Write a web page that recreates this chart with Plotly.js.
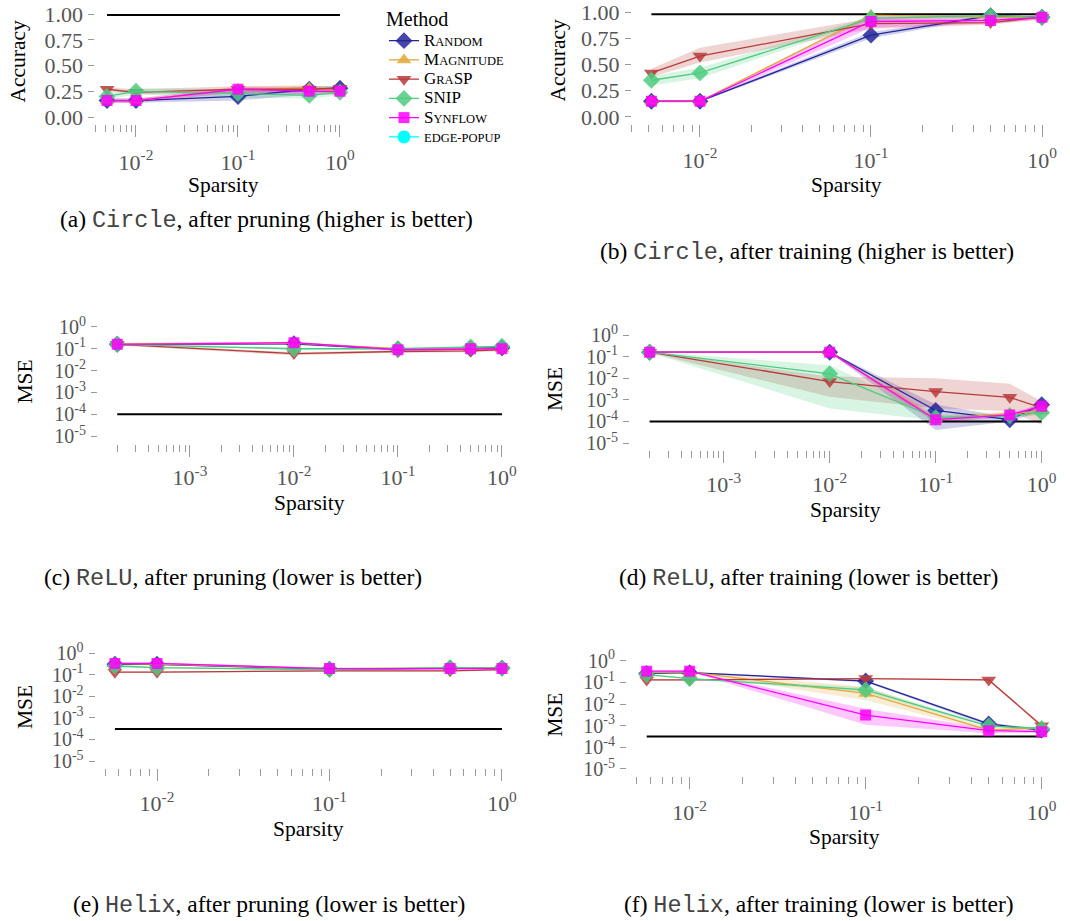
<!DOCTYPE html>
<html><head><meta charset="utf-8">
<script src="https://cdn.plot.ly/plotly-3.0.1.min.js"></script>
<style>html,body{margin:0;padding:0;background:#fff}</style>
</head><body><div id="chart" style="width:1070px;height:921px"></div>
<script>
// ---------------- DATA ----------------
const methodNames = ['Random', 'Magnitude', 'GraSP', 'SNIP', 'Synflow', 'edge-popup'];
const methodLabels = [
  '<span style="font-size:17px">R</span>ANDOM',
  '<span style="font-size:17px">M</span>AGNITUDE',
  '<span style="font-size:17px">G</span>RA<span style="font-size:17px">SP</span>',
  '<span style="font-size:17px">SNIP</span>',
  '<span style="font-size:17px">S</span>YNFLOW',
  'EDGE-POPUP'
];
const methodColors = ['#24249b', '#e0a93b', '#b83b3b', '#4dcb80', '#ff00ff', '#00ffff'];
const methodSymbols = ['diamond', 'triangle-up', 'triangle-down', 'diamond', 'square', 'circle'];

const sparsityCircle = [0.0052, 0.01, 0.1, 0.5, 1];
const sparsityRelu = [0.0002, 0.01, 0.1, 0.5, 1];
const sparsityHelix = [0.0057, 0.01, 0.1, 0.5, 1];

// (a) Circle, after pruning (accuracy)
const circlePruneRandom = [0.16, 0.16, 0.20, 0.27, 0.28];
const circlePruneRandomLo = [0.14, 0.14, 0.16, 0.22, 0.24];
const circlePruneRandomHi = [0.18, 0.18, 0.25, 0.30, 0.30];
const circlePruneMagnitude = [0.16, 0.16, 0.27, 0.28, 0.25];
const circlePruneMagnitudeLo = [0.14, 0.14, 0.24, 0.25, 0.22];
const circlePruneMagnitudeHi = [0.18, 0.18, 0.30, 0.31, 0.28];
const circlePruneGrasp = [0.27, 0.24, 0.27, 0.27, 0.28];
const circlePruneGraspLo = [0.25, 0.22, 0.23, 0.24, 0.25];
const circlePruneGraspHi = [0.29, 0.27, 0.30, 0.30, 0.30];
const circlePruneSnip = [0.20, 0.25, 0.23, 0.21, 0.24];
const circlePruneSnipLo = [0.17, 0.22, 0.19, 0.18, 0.21];
const circlePruneSnipHi = [0.23, 0.28, 0.27, 0.25, 0.27];
const circlePruneSynflow = [0.16, 0.16, 0.27, 0.25, 0.25];
const circlePruneSynflowLo = [0.14, 0.14, 0.24, 0.22, 0.22];
const circlePruneSynflowHi = [0.18, 0.18, 0.29, 0.28, 0.28];
const circlePruneBaseline = [0.99, 0.99, 0.99, 0.99, 0.99];

// (b) Circle, after training (accuracy)
const circleTrainRandom = [0.15, 0.15, 0.78, 0.965, 0.95];
const circleTrainRandomLo = [0.14, 0.14, 0.75, 0.95, 0.94];
const circleTrainRandomHi = [0.16, 0.16, 0.81, 0.975, 0.96];
const circleTrainMagnitude = [0.15, 0.15, 0.97, 0.95, 0.95];
const circleTrainMagnitudeLo = [0.14, 0.14, 0.95, 0.93, 0.94];
const circleTrainMagnitudeHi = [0.16, 0.16, 0.98, 0.97, 0.96];
const circleTrainGrasp = [0.42, 0.58, 0.89, 0.90, 0.95];
const circleTrainGraspLo = [0.38, 0.52, 0.84, 0.88, 0.93];
const circleTrainGraspHi = [0.46, 0.66, 0.94, 0.93, 0.97];
const circleTrainSnip = [0.35, 0.42, 0.94, 0.965, 0.95];
const circleTrainSnipLo = [0.30, 0.37, 0.92, 0.95, 0.94];
const circleTrainSnipHi = [0.39, 0.47, 0.96, 0.975, 0.96];
const circleTrainSynflow = [0.15, 0.15, 0.91, 0.92, 0.95];
const circleTrainSynflowLo = [0.14, 0.14, 0.85, 0.89, 0.93];
const circleTrainSynflowHi = [0.16, 0.16, 0.96, 0.95, 0.97];
const circleTrainBaseline = [0.98, 0.98, 0.98, 0.98, 0.98];

// (c) ReLU, after pruning (MSE)
const reluPruneRandom = [0.16, 0.17, 0.095, 0.10, 0.11];
const reluPruneRandomLo = [0.14, 0.15, 0.085, 0.09, 0.10];
const reluPruneRandomHi = [0.18, 0.19, 0.105, 0.11, 0.12];
const reluPruneMagnitude = [0.17, 0.18, 0.10, 0.10, 0.10];
const reluPruneMagnitudeLo = [0.15, 0.16, 0.09, 0.09, 0.09];
const reluPruneMagnitudeHi = [0.19, 0.20, 0.11, 0.11, 0.11];
const reluPruneGrasp = [0.16, 0.06, 0.075, 0.08, 0.09];
const reluPruneGraspLo = [0.14, 0.05, 0.065, 0.07, 0.08];
const reluPruneGraspHi = [0.18, 0.07, 0.085, 0.09, 0.10];
const reluPruneSnip = [0.16, 0.10, 0.10, 0.12, 0.13];
const reluPruneSnipLo = [0.14, 0.09, 0.09, 0.11, 0.12];
const reluPruneSnipHi = [0.18, 0.11, 0.11, 0.13, 0.14];
const reluPruneSynflow = [0.16, 0.19, 0.09, 0.10, 0.10];
const reluPruneSynflowLo = [0.14, 0.17, 0.08, 0.09, 0.09];
const reluPruneSynflowHi = [0.18, 0.21, 0.10, 0.11, 0.11];
const reluPruneBaseline = [1e-4, 1e-4, 1e-4, 1e-4, 1e-4];

// (d) ReLU, after training (MSE)
const reluTrainRandom = [0.16, 0.16, 3.2e-4, 1.2e-4, 5.9e-4];
const reluTrainRandomLo = [0.15, 0.15, 4e-5, 1.0e-4, 3e-4];
const reluTrainRandomHi = [0.17, 0.17, 6e-4, 1.5e-4, 8e-4];
const reluTrainMagnitude = [0.16, 0.16, 1.3e-4, 2.3e-4, 3e-4];
const reluTrainMagnitudeLo = [0.15, 0.15, 8e-5, 1.8e-4, 2e-4];
const reluTrainMagnitudeHi = [0.17, 0.17, 2e-4, 2.8e-4, 4e-4];
const reluTrainGrasp = [0.16, 7e-3, 2.4e-3, 1.3e-3, 4.2e-4];
const reluTrainGraspLo = [0.15, 1.4e-3, 4e-4, 3e-4, 7e-5];
const reluTrainGraspHi = [0.17, 1.2e-2, 1e-2, 5.5e-3, 8.5e-4];
const reluTrainSnip = [0.16, 0.016, 1.5e-4, 1.8e-4, 2.6e-4];
const reluTrainSnipLo = [0.15, 4e-4, 1.1e-4, 1.5e-4, 2e-4];
const reluTrainSnipHi = [0.17, 0.04, 2e-4, 2.2e-4, 3.2e-4];
const reluTrainSynflow = [0.16, 0.16, 1.2e-4, 2e-4, 5e-4];
const reluTrainSynflowLo = [0.15, 0.15, 9e-5, 1.6e-4, 3.5e-4];
const reluTrainSynflowHi = [0.17, 0.17, 1.6e-4, 2.5e-4, 6e-4];
const reluTrainBaseline = [1e-4, 1e-4, 1e-4, 1e-4, 1e-4];

// (e) Helix, after pruning (MSE)
const helixPruneRandom = [0.30, 0.30, 0.18, 0.20, 0.20];
const helixPruneRandomLo = [0.27, 0.27, 0.16, 0.18, 0.18];
const helixPruneRandomHi = [0.33, 0.33, 0.20, 0.22, 0.22];
const helixPruneMagnitude = [0.32, 0.31, 0.19, 0.20, 0.20];
const helixPruneMagnitudeLo = [0.29, 0.28, 0.17, 0.18, 0.18];
const helixPruneMagnitudeHi = [0.35, 0.34, 0.21, 0.22, 0.22];
const helixPruneGrasp = [0.13, 0.13, 0.15, 0.15, 0.17];
const helixPruneGraspLo = [0.12, 0.12, 0.14, 0.14, 0.15];
const helixPruneGraspHi = [0.14, 0.14, 0.16, 0.16, 0.19];
const helixPruneSnip = [0.25, 0.21, 0.17, 0.21, 0.20];
const helixPruneSnipLo = [0.22, 0.19, 0.15, 0.19, 0.18];
const helixPruneSnipHi = [0.28, 0.23, 0.19, 0.23, 0.22];
const helixPruneSynflow = [0.33, 0.33, 0.19, 0.19, 0.19];
const helixPruneSynflowLo = [0.30, 0.30, 0.17, 0.17, 0.17];
const helixPruneSynflowHi = [0.36, 0.36, 0.21, 0.21, 0.21];
const helixPruneBaseline = [3e-4, 3e-4, 3e-4, 3e-4, 3e-4];

// (f) Helix, after training (MSE)
const helixTrainRandom = [0.26, 0.28, 0.115, 1.2e-3, 6.3e-4];
const helixTrainRandomLo = [0.24, 0.26, 0.10, 1.0e-3, 5.5e-4];
const helixTrainRandomHi = [0.28, 0.30, 0.13, 1.4e-3, 7e-4];
const helixTrainMagnitude = [0.30, 0.30, 0.031, 6.3e-4, 8e-4];
const helixTrainMagnitudeLo = [0.28, 0.28, 0.015, 5.5e-4, 7e-4];
const helixTrainMagnitudeHi = [0.32, 0.32, 0.063, 7.5e-4, 9e-4];
const helixTrainGrasp = [0.13, 0.13, 0.15, 0.13, 1e-3];
const helixTrainGraspLo = [0.12, 0.12, 0.14, 0.12, 8e-4];
const helixTrainGraspHi = [0.14, 0.14, 0.16, 0.14, 1.2e-3];
const helixTrainSnip = [0.23, 0.15, 0.045, 9.6e-4, 7.5e-4];
const helixTrainSnipLo = [0.21, 0.14, 0.035, 8.5e-4, 6.5e-4];
const helixTrainSnipHi = [0.25, 0.16, 0.06, 1.1e-3, 8.5e-4];
const helixTrainSynflow = [0.33, 0.33, 3.1e-3, 5.9e-4, 5.3e-4];
const helixTrainSynflowLo = [0.31, 0.31, 1.1e-3, 4.5e-4, 4.5e-4];
const helixTrainSynflowHi = [0.35, 0.35, 6e-3, 7.5e-4, 6e-4];
const helixTrainBaseline = [3.2e-4, 3.2e-4, 3.2e-4, 3.2e-4, 3.2e-4];

const accTickVals = [0, 0.25, 0.5, 0.75, 1];
const accTickText = ['0.00', '0.25', '0.50', '0.75', '1.00'];
const mseTickVals = [1e-5, 1e-4, 1e-3, 1e-2, 1e-1, 1];
const mseTickText = ['10<sup>-5</sup>', '10<sup>-4</sup>', '10<sup>-3</sup>', '10<sup>-2</sup>', '10<sup>-1</sup>', '10<sup>0</sup>'];
const sparsityTickVals = [1e-3, 1e-2, 1e-1, 1];
const sparsityTickText = ['10<sup>-3</sup>', '10<sup>-2</sup>', '10<sup>-1</sup>', '10<sup>0</sup>'];

const captions = [
  '(a) <span style="font-family:Liberation Mono;fill:#444">Circle</span>, after pruning (higher is better)',
  '(b) <span style="font-family:Liberation Mono;fill:#444">Circle</span>, after training (higher is better)',
  '(c) <span style="font-family:Liberation Mono;fill:#444">ReLU</span>, after pruning (lower is better)',
  '(d) <span style="font-family:Liberation Mono;fill:#444">ReLU</span>, after training (lower is better)',
  '(e) <span style="font-family:Liberation Mono;fill:#444">Helix</span>, after pruning (lower is better)',
  '(f) <span style="font-family:Liberation Mono;fill:#444">Helix</span>, after training (lower is better)'
];

// ---------------- LAYOUT GEOMETRY (pixels) ----------------
const W = 1070, H = 921;
const SERIF = 'Liberation Serif, Times New Roman, serif';
const panels = [
  {x: sparsityCircle, mean: [circlePruneRandom, circlePruneMagnitude, circlePruneGrasp, circlePruneSnip, circlePruneSynflow],
   lo: [circlePruneRandomLo, circlePruneMagnitudeLo, circlePruneGraspLo, circlePruneSnipLo, circlePruneSynflowLo],
   hi: [circlePruneRandomHi, circlePruneMagnitudeHi, circlePruneGraspHi, circlePruneSnipHi, circlePruneSynflowHi],
   base: circlePruneBaseline, xpx: [95.4, 351.6], ypx: [8.9, 122.2], xr: [-2.398, 0.114], log: false,
   ytitle: 'Accuracy', ytx: 18, xty: 185, cap: [266, 220], stand: 6},
  {x: sparsityCircle, mean: [circleTrainRandom, circleTrainMagnitude, circleTrainGrasp, circleTrainSnip, circleTrainSynflow],
   lo: [circleTrainRandomLo, circleTrainMagnitudeLo, circleTrainGraspLo, circleTrainSnipLo, circleTrainSynflowLo],
   hi: [circleTrainRandomHi, circleTrainMagnitudeHi, circleTrainGraspHi, circleTrainSnipHi, circleTrainSynflowHi],
   base: circleTrainBaseline, xpx: [631.9, 1061.5], ypx: [6.8, 122.2], xr: [-2.398, 0.114], log: false,
   ytitle: 'Accuracy', ytx: 557, xty: 185, cap: [807, 252], stand: 4},
  {x: sparsityRelu, mean: [reluPruneRandom, reluPruneMagnitude, reluPruneGrasp, reluPruneSnip, reluPruneSynflow],
   lo: [reluPruneRandomLo, reluPruneMagnitudeLo, reluPruneGraspLo, reluPruneSnipLo, reluPruneSynflowLo],
   hi: [reluPruneRandomHi, reluPruneMagnitudeHi, reluPruneGraspHi, reluPruneSnipHi, reluPruneSynflowHi],
   base: reluPruneBaseline, xpx: [98, 521.2], ypx: [321.5, 441.5], xr: [-3.884, 0.185], log: true,
   ytitle: 'MSE', ytx: 25, xty: 503, cap: [233, 578], stand: 2},
  {x: sparsityRelu, mean: [reluTrainRandom, reluTrainMagnitude, reluTrainGrasp, reluTrainSnip, reluTrainSynflow],
   lo: [reluTrainRandomLo, reluTrainMagnitudeLo, reluTrainGraspLo, reluTrainSnipLo, reluTrainSynflowLo],
   hi: [reluTrainRandomHi, reluTrainMagnitudeHi, reluTrainGraspHi, reluTrainSnipHi, reluTrainSynflowHi],
   base: reluTrainBaseline, xpx: [630, 1061.3], ypx: [329.6, 448.4], xr: [-3.884, 0.185], log: true,
   ytitle: 'MSE', ytx: 555, xty: 510, cap: [808, 578], stand: 2},
  {x: sparsityHelix, mean: [helixPruneRandom, helixPruneMagnitude, helixPruneGrasp, helixPruneSnip, helixPruneSynflow],
   lo: [helixPruneRandomLo, helixPruneMagnitudeLo, helixPruneGraspLo, helixPruneSnipLo, helixPruneSynflowLo],
   hi: [helixPruneRandomHi, helixPruneMagnitudeHi, helixPruneGraspHi, helixPruneSnipHi, helixPruneSynflowHi],
   base: helixPruneBaseline, xpx: [95.6, 521.3], ypx: [647.6, 766.4], xr: [-2.356, 0.112], log: true,
   ytitle: 'MSE', ytx: 25, xty: 829, cap: [269, 905], stand: 3},
  {x: sparsityHelix, mean: [helixTrainRandom, helixTrainMagnitude, helixTrainGrasp, helixTrainSnip, helixTrainSynflow],
   lo: [helixTrainRandomLo, helixTrainMagnitudeLo, helixTrainGraspLo, helixTrainSnipLo, helixTrainSynflowLo],
   hi: [helixTrainRandomHi, helixTrainMagnitudeHi, helixTrainGraspHi, helixTrainSnipHi, helixTrainSynflowHi],
   base: helixTrainBaseline, xpx: [627, 1061.4], ypx: [655.3, 774.4], xr: [-2.356, 0.112], log: true,
   ytitle: 'MSE', ytx: 555, xty: 837, cap: [819, 905], stand: 4}
];

function rgba(hex, a) {
  const r = parseInt(hex.slice(1, 3), 16), g = parseInt(hex.slice(3, 5), 16), b = parseInt(hex.slice(5, 7), 16);
  return 'rgba(' + r + ',' + g + ',' + b + ',' + a + ')';
}
const fx = px => px / W;
const fy = py => 1 - py / H;

const minorVals = [];
for (let k = -5; k <= -1; k++) for (let d = 2; d <= 9; d++) minorVals.push(d * Math.pow(10, k));

const markerSizes = [13, 13, 13, 13, 11, 13];

const traces = [];
const layout = {
  width: W, height: H, autosize: false,
  margin: {l: 0, r: 0, t: 0, b: 0},
  paper_bgcolor: '#fff', plot_bgcolor: '#fff',
  font: {family: SERIF, size: 20, color: '#000'},
  showlegend: true,
  legend: {
    x: fx(384), y: 1, xanchor: 'left', yanchor: 'top',
    title: {text: 'Method', font: {family: SERIF, size: 20, color: '#000'}},
    font: {family: SERIF, size: 12.5, color: '#000'},
    itemwidth: 30, bgcolor: 'rgba(0,0,0,0)', tracegroupgap: 0
  },
  annotations: []
};

panels.forEach((p, i) => {
  const s = i === 0 ? '' : String(i + 1);
  const xa = 'x' + s, ya = 'y' + s;
  // ribbons
  p.mean.forEach((m, j) => {
    traces.push({
      type: 'scatter', mode: 'lines', xaxis: xa, yaxis: ya,
      x: p.x.concat(p.x.slice().reverse()),
      y: p.hi[j].concat(p.lo[j].slice().reverse()),
      fill: 'toself', fillcolor: rgba(methodColors[j], 0.22),
      line: {width: 0, color: 'rgba(0,0,0,0)'}, hoverinfo: 'skip', showlegend: false
    });
  });
  // baseline
  traces.push({
    type: 'scatter', mode: 'lines', xaxis: xa, yaxis: ya, x: p.x, y: p.base,
    line: {color: '#000', width: 2}, showlegend: false, hoverinfo: 'skip'
  });
  // method lines + markers
  p.mean.forEach((m, j) => {
    traces.push({
      type: 'scatter', mode: 'lines+markers', xaxis: xa, yaxis: ya, x: p.x, y: m,
      name: methodLabels[j], legendgroup: methodNames[j], showlegend: i === 0,
      line: {color: methodColors[j], width: 1.3},
      marker: {symbol: methodSymbols[j], size: markerSizes[j], color: rgba(methodColors[j], 0.85), line: {width: 0}}
    });
  });
  if (i === 0) {
    traces.push({
      type: 'scatter', mode: 'lines+markers', xaxis: xa, yaxis: ya, x: [null], y: [null],
      name: methodLabels[5], legendgroup: methodNames[5], showlegend: true,
      line: {color: methodColors[5], width: 1.3},
      marker: {symbol: methodSymbols[5], size: markerSizes[5], color: methodColors[5], line: {width: 0}}
    });
  }

  const bottom = p.ypx[1];
  layout['xaxis' + s] = {
    domain: [fx(p.xpx[0]), fx(p.xpx[1])], type: 'log', range: p.xr,
    anchor: 'free', position: fy(bottom + 2),
    showgrid: false, zeroline: false, showline: false,
    tickmode: 'array', tickvals: sparsityTickVals, ticktext: sparsityTickText,
    ticks: 'outside', ticklen: 12, tickwidth: 1, tickcolor: '#9a9a9a',
    ticklabelstandoff: p.stand, ticklabeloverflow: 'allow',
    minor: {tickmode: 'array', tickvals: minorVals, ticks: 'outside', ticklen: 7, tickwidth: 1, tickcolor: '#9a9a9a', showgrid: false},
    tickfont: {family: SERIF, size: 22, color: '#555'}
  };
  layout['yaxis' + s] = {
    domain: [fy(p.ypx[1]), fy(p.ypx[0])], anchor: xa,
    type: p.log ? 'log' : 'linear',
    range: p.log ? [-5.25, 0.25] : [-0.05, 1.05],
    showgrid: false, zeroline: false, showline: false,
    tickmode: 'array',
    tickvals: p.log ? mseTickVals : accTickVals,
    ticktext: p.log ? mseTickText : accTickText,
    ticks: 'outside', ticklen: 6, tickwidth: 1, tickcolor: '#9a9a9a',
    ticklabelstandoff: 1, ticklabeloverflow: 'allow',
    tickfont: {family: SERIF, size: p.log ? 20 : 22, color: '#555'}
  };
  // axis titles
  layout.annotations.push({
    xref: 'paper', yref: 'paper', x: fx(p.ytx), y: fy((p.ypx[0] + p.ypx[1]) / 2 + (p.log ? 0 : -4)),
    text: p.ytitle, textangle: -90, showarrow: false, xanchor: 'center', yanchor: 'middle',
    font: {family: SERIF, size: 21.5, color: '#000'}
  });
  layout.annotations.push({
    xref: 'paper', yref: 'paper', x: fx((p.xpx[0] + p.xpx[1]) / 2), y: fy(p.xty),
    text: 'Sparsity', showarrow: false, xanchor: 'center', yanchor: 'middle',
    font: {family: SERIF, size: 21.5, color: '#000'}
  });
  layout.annotations.push({
    xref: 'paper', yref: 'paper', x: fx(p.cap[0]), y: fy(p.cap[1]),
    text: captions[i], showarrow: false, xanchor: 'center', yanchor: 'middle',
    font: {family: SERIF, size: 23.5, color: '#000'}
  });
});

Plotly.newPlot('chart', traces, layout, {displayModeBar: false, staticPlot: true});
</script></body></html>
